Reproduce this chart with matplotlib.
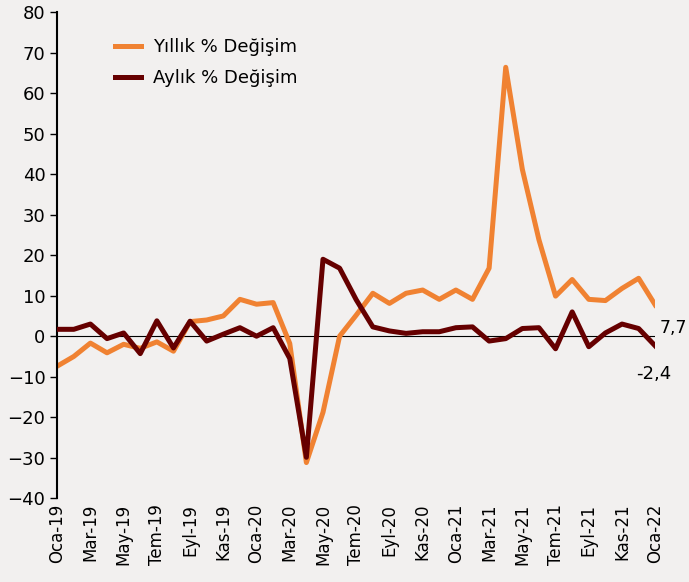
import matplotlib.pyplot as plt

months = ["Oca", "Şub", "Mar", "Nis", "May", "Haz", "Tem", "Ağu", "Eyl", "Eki", "Kas", "Ara"]
labels = [f"{months[i % 12]}-{19 + i // 12}" for i in range(37)]

# yearly % change (orange)
yillik = [-7.4, -5.0, -1.7, -4.1, -2.0, -3.0, -1.4, -3.7, 3.6, 4.0, 5.0, 9.1,
          7.9, 8.3, -1.8, -31.2, -18.8, 0.0, 5.2, 10.6, 8.1, 10.6, 11.4, 9.1,
          11.4, 9.1, 16.8, 66.4, 41.2, 23.8, 9.9, 14.0, 9.1, 8.8, 11.8, 14.3, 7.7]
# monthly % change (dark red)
aylik = [1.7, 1.7, 3.0, -0.6, 0.8, -4.3, 3.8, -2.9, 3.7, -1.2, 0.5, 2.1,
         0.0, 2.1, -5.5, -29.9, 19.0, 16.8, 9.0, 2.3, 1.3, 0.7, 1.1, 1.1,
         2.1, 2.3, -1.2, -0.6, 1.9, 2.1, -3.1, 6.0, -2.6, 0.8, 3.0, 1.9, -2.4]

bg = "#F2F0EF"
fig = plt.figure(figsize=(6.89, 5.82), dpi=100, facecolor=bg)
ax = fig.add_axes([0.083, 0.144, 0.868, 0.835], facecolor=bg)

x = range(len(labels))
ax.axhline(0, color="black", lw=0.8, zorder=1)
ax.plot(x, yillik, color="#F08232", lw=3.6, label="Yıllık % Değişim", zorder=2)
ax.plot(x, aylik, color="#660000", lw=3.6, label="Aylık % Değişim", zorder=3)

ax.set_xlim(0, 36)
ax.set_ylim(-40, 80)
ax.set_yticks(range(-40, 81, 10))
ax.set_xticks(list(x)[::2])
ax.set_xticklabels(labels[::2], rotation=90, fontsize=12)
ax.tick_params(axis="y", labelsize=13, length=5, width=1)
ax.tick_params(axis="x", length=0, pad=4)
for s in ["top", "right", "bottom"]:
    ax.spines[s].set_visible(False)
ax.spines["left"].set_linewidth(1.5)

ax.annotate("7,7", (36, yillik[-1]), xytext=(3, -20), textcoords="offset points",
            fontsize=12.5, clip_on=False)
ax.annotate("-2,4", (36, aylik[-1]), xytext=(-14, -24), textcoords="offset points",
            fontsize=13, clip_on=False)

ax.legend(loc="upper left", bbox_to_anchor=(0.07, 0.98), frameon=False, fontsize=13,
          handlelength=1.4, handletextpad=0.7, labelspacing=0.7)

fig.savefig("out.png", dpi=100, facecolor=bg)
